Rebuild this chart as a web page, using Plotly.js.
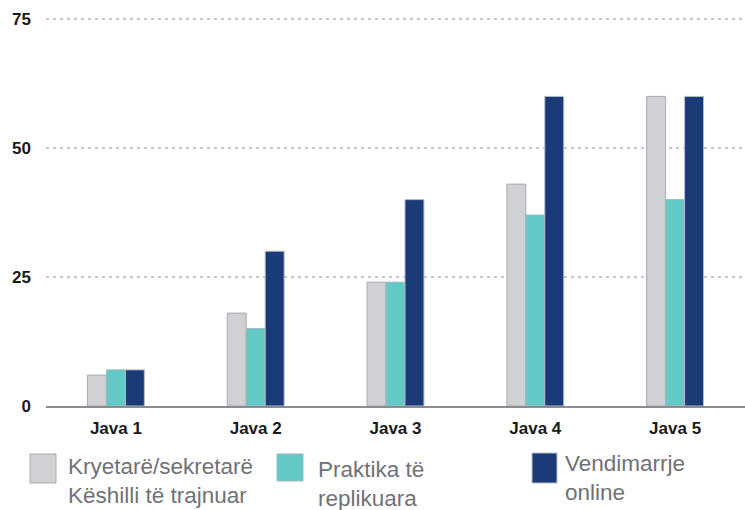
<!DOCTYPE html>
<html>
<head>
<meta charset="utf-8">
<script src="https://cdn.plot.ly/plotly-3.0.1.min.js"></script>
<style>
  html, body { margin: 0; padding: 0; background: #ffffff; }
  #chart { width: 745px; height: 510px; }
</style>
</head>
<body>
<div id="chart"></div>
<script>
// ---- Data ----
var categories = ["Java 1", "Java 2", "Java 3", "Java 4", "Java 5"];
var seriesNames = ["Kryetarë/sekretarë<br>Këshilli të trajnuar", "Praktika të<br>replikuara", "Vendimarrje<br>online"];
var chairsTrained = [6, 18, 24, 43, 60];
var replicatedPractices = [7, 15, 24, 37, 40];
var onlineDecisions = [7, 30, 40, 60, 60];
var yTickValues = [0, 25, 50, 75];
var yTickLabels = ["0", "25", "50", "75"];

// ---- Styles ----
var colors = ["#d0d1d5", "#62c9c6", "#1b3a78"];
var outlines = ["#a9abb0", "#9fb8bb", "#b7bcc6"];

var W = 745, H = 510;
var M = { l: 46, r: 0, t: 17, b: 104 };
var PW = W - M.l - M.r, PH = H - M.t - M.b;
var yTop = 75 * PH / (H - M.b - 19); // keeps value 75 at pixel row 19
function px(x) { return (x - M.l) / PW; }
function py(y) { return (H - M.b - y) / PH; }

var seriesValues = [chairsTrained, replicatedPractices, onlineDecisions];
var traces = seriesValues.map(function (vals, i) {
  return {
    type: "bar",
    x: categories,
    y: vals,
    name: seriesNames[i].replace("<br>", " "),
    marker: { color: colors[i], line: { color: outlines[i], width: 1 } },
    hoverinfo: "x+y+name"
  };
});

// custom legend (large swatches, two-line labels)
var legendBoxes = [
  { x0: 30, x1: 56, y0: 454, y1: 483, tx: 66, ty: 452 },
  { x0: 277, x1: 303, y0: 454, y1: 481, tx: 316, ty: 455 },
  { x0: 532, x1: 557, y0: 453, y1: 483, tx: 563, ty: 449 }
];
var shapes = legendBoxes.map(function (b, i) {
  return {
    type: "rect", xref: "paper", yref: "paper",
    x0: px(b.x0), x1: px(b.x1), y0: py(b.y1), y1: py(b.y0),
    fillcolor: colors[i], line: { color: outlines[i], width: 1 }
  };
});
var annotations = legendBoxes.map(function (b, i) {
  return {
    xref: "paper", yref: "paper",
    x: px(b.tx), y: py(b.ty),
    xanchor: "left", yanchor: "top", align: "left",
    showarrow: false,
    text: seriesNames[i],
    font: { family: "Liberation Sans, Arial, sans-serif", size: 22.5, color: "#6f7177" }
  };
});

var layout = {
  width: W, height: H,
  margin: M,
  paper_bgcolor: "#ffffff",
  plot_bgcolor: "#ffffff",
  showlegend: false,
  barmode: "group",
  bargap: 0.593,
  bargroupgap: 0,
  font: { family: "Liberation Sans, Arial, sans-serif" },
  xaxis: {
    type: "category",
    range: [-0.5, 4.5],
    showgrid: false,
    showline: true,
    linecolor: "#8b8d93",
    linewidth: 2,
    ticks: "",
    ticklabelstandoff: 6,
    tickfont: { family: "Liberation Sans, Arial, sans-serif", size: 17, color: "#1a1a1a", weight: "bold" },
    fixedrange: true
  },
  yaxis: {
    range: [0, yTop],
    tickvals: yTickValues,
    ticktext: yTickLabels,
    showgrid: true,
    gridcolor: "#c6c7ca",
    gridwidth: 2,
    griddash: "3px,4px",
    zeroline: false,
    showline: false,
    ticks: "",
    ticklabelstandoff: 14,
    tickfont: { family: "Liberation Sans, Arial, sans-serif", size: 17, color: "#1a1a1a", weight: "bold" },
    fixedrange: true
  },
  shapes: shapes,
  annotations: annotations
};

Plotly.newPlot("chart", traces, layout, { displayModeBar: false, staticPlot: true });
</script>
</body>
</html>
